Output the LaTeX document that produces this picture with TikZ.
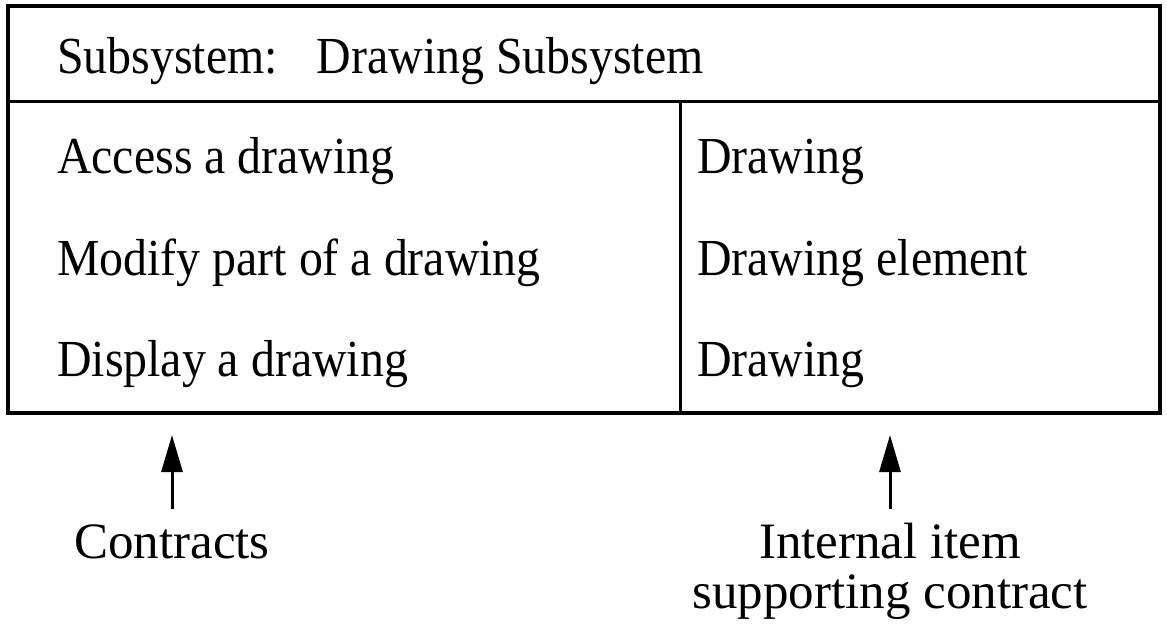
\documentclass[tikz,border=0pt]{standalone}
\usepackage{fontspec}
\setmainfont{Liberation Serif}
\newfontfamily\cellfont{Liberation Serif}[FakeStretch=0.92]
\usetikzlibrary{arrows.meta}
\tikzset{
  cell/.style={anchor=base west, inner sep=0pt, font=\cellfont\fontsize{52}{60}\selectfont},
  caption/.style={anchor=base, inner sep=0pt, align=center, font=\fontsize{51}{50}\selectfont},
  frame/.style={line width=3.5pt},
  rule/.style={line width=3pt},
  pointer/.style={line width=3pt, -{Triangle[length=37pt,width=21pt]}}
}
\begin{document}
\begin{tikzpicture}[x=1pt,y=-1pt]
  \useasboundingbox (0,0) rectangle (1167,624);
  % table frame, header rule and column divider
  \draw[frame] (8,6) rectangle (1160,413);
  \draw[rule] (8,101) -- (1160,101);
  \draw[rule] (680,101) -- (680,413);
  % header
  \node[cell] (head) at (57,73) {Subsystem:\hspace{0.75em}Drawing Subsystem};
  % contracts column
  \node[cell] (c1) at (57,173) {Access a drawing};
  \node[cell] (c2) at (57,275) {Modify part of a drawing};
  \node[cell] (c3) at (57,376) {Display a drawing};
  % internal items column
  \node[cell] (i1) at (697,173) {Drawing};
  \node[cell] (i2) at (697,275) {Drawing element};
  \node[cell] (i3) at (697,376) {Drawing};
  % captions below the table
  \node[caption] (contracts) at (172,558) {Contracts};
  \node[caption] (internal) at (890,608) {Internal item\\supporting contract};
  \coordinate (ctail) at (172,509);
  \coordinate (ctip) at (172,435);
  \coordinate (itail) at (890,509);
  \coordinate (itip) at (890,435);
  \draw[pointer] (ctail) -- (ctip);
  \draw[pointer] (itail) -- (itip);
\end{tikzpicture}
\end{document}
